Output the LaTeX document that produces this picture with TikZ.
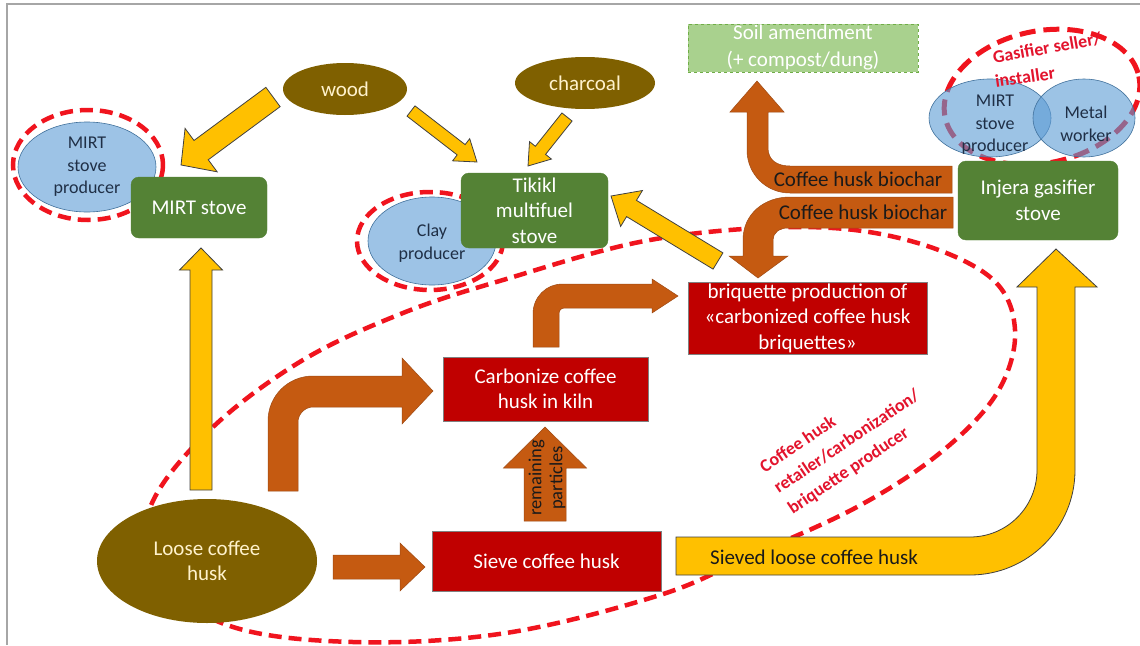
\documentclass[tikz,border=0pt]{standalone}
\usepackage{fontspec}
\setmainfont{Carlito}
\usetikzlibrary{shapes.geometric}
\definecolor{cOlive}{HTML}{7F6000}
\definecolor{cCream}{HTML}{FFF2CC}
\definecolor{cGreen}{HTML}{548235}
\definecolor{cRedBox}{HTML}{C00000}
\definecolor{cOrg}{HTML}{C55A11}
\definecolor{cOrgD}{HTML}{9E4A14}
\definecolor{cYel}{HTML}{FFC000}
\definecolor{cYelD}{HTML}{404040}
\definecolor{cBlue}{HTML}{9DC3E6}
\definecolor{cBlueT}{HTML}{5B9BD5}
\definecolor{cBlueD}{HTML}{41719C}
\definecolor{cDash}{HTML}{F0141E}
\definecolor{cRedTxt}{HTML}{E3142D}
\definecolor{cSoil}{HTML}{A9D18E}
\definecolor{cSoilD}{HTML}{70AD47}
\definecolor{cFrame}{HTML}{A6A6A6}
\definecolor{cDark}{HTML}{1A1A1A}
\definecolor{cNavy}{HTML}{1F2F46}
\newcommand\fsz[2]{\fontsize{#1}{#2}\selectfont}
% style, x1, y1, x2, y2, half shaft, half head, head length
\newcommand\blockarrow[8]{%
  \pgfmathsetmacro\baRot{-atan2((#5)-(#3),(#4)-(#2))}%
  \pgfmathsetmacro\baLen{veclen((#4)-(#2),(#5)-(#3))}%
  \pgfmathsetmacro\baB{\baLen-(#8)}%
  \path[#1, shift={(#2,#3)}, rotate=\baRot]
    (0,-#6) -- (\baB,-#6) -- (\baB,-#7) -- (\baLen,0) -- (\baB,#7) -- (\baB,#6) -- (0,#6) -- cycle;}
\begin{document}
\begin{tikzpicture}[x=1pt,y=-1pt,
  reddash/.style={draw=cDash, line width=4.5pt, dash pattern=on 13pt off 7pt},
  yel/.style={fill=cYel, draw=cYelD, line width=0.8pt},
  org/.style={fill=cOrg, draw=cOrgD, line width=0.5pt},
  olv/.style={ellipse, fill=cOlive, text=cCream, font=\fsz{21}{25}, inner sep=0pt, align=center},
  blu/.style={ellipse, fill=cBlue, draw=cBlueD, line width=0.6pt, inner sep=0pt},
  blut/.style={ellipse, fill=cBlueT, fill opacity=0.6, draw=cBlueD, line width=0.6pt, inner sep=0pt},
  grn/.style={rectangle, rounded corners=8pt, fill=cGreen, draw=cGreen, text=white, font=\fsz{21}{25.5}, align=center, inner sep=0pt},
  redbox/.style={rectangle, fill=cRedBox, draw=gray, line width=0.6pt, text=white, font=\fsz{21}{25.5}, align=center, inner sep=0pt},
  bluetxt/.style={text=cNavy, font=\fsz{18}{22.5}, align=center, inner sep=0pt},
  darktxt/.style={text=cDark, font=\fsz{21}{25}, inner sep=0pt},
  redtxt/.style={text=cRedTxt, font=\bfseries\fsz{18}{25}, inner sep=0pt},
]
\useasboundingbox (0,0) rectangle (1140,645);
\fill[white] (0,0) rectangle (1140,645);
\draw[cFrame, line width=1.5pt] (7,645) -- (7,4) -- (1140,4);

% dashed group outlines (behind everything)
\draw[reddash] plot[smooth cycle, tension=0.6] coordinates {
 (152,503) (213,427) (303,360) (403,313) (503,280) (650,240) (800,227)
 (907,240) (990,277) (1015,330) (997,393) (940,453) (857,507) (750,556)
 (660,595) (506,633) (353,642) (227,625) (150,570)};
\draw[reddash] (88,165) ellipse (75 and 55);
\draw[reddash] (430,241) ellipse (73 and 49);
\draw[reddash, line width=5pt, dash pattern=on 16pt off 8pt, rotate around={12:(1042,97)}] (1042,97) ellipse (99 and 66);

% ellipses
\node[olv, minimum width=124pt, minimum height=52pt] (wood) at (345,89) {wood};
\node[olv, minimum width=140pt, minimum height=52pt] (charcoal) at (585,83) {charcoal};
\node[blu, minimum width=138pt, minimum height=90pt] (mirtL) at (87,167) {};
\node[blu, minimum width=128pt, minimum height=88pt] (clay) at (432,241) {};
\node[blut, minimum width=122pt, minimum height=78pt] (mirtR) at (990,118) {};
\node[blut, minimum width=102pt, minimum height=78pt] (metal) at (1084,118) {};
\node[bluetxt] (mirtLt) at (87,167) {MIRT\\stove\\producer};
\node[bluetxt] (clayt) at (432,243) {Clay\\producer};
\node[bluetxt] (mirtRt) at (995,125) {MIRT\\stove\\producer};
\node[bluetxt] (metalt) at (1086,124) {Metal\\worker};

% boxes
\node[rectangle, fill=cSoil, draw=cSoilD, dashed, line width=0.8pt, minimum width=230pt, minimum height=48pt,
      text=white, font=\fsz{21}{27}, align=center, inner sep=0pt] (soil) at (803,48) {Soil amendment\\(+ compost/dung)};
\node[grn, minimum width=136pt, minimum height=61pt] (mirt) at (199,207.5) {MIRT stove};
\node[grn, minimum width=147pt, minimum height=75pt] (tikikl) at (534.5,210.5) {Tikikl\\multifuel\\stove};
\node[grn, minimum width=160pt, minimum height=79pt] (injera) at (1038,200.5) {Injera gasifier\\stove};
\node[redbox, minimum width=205pt, minimum height=64pt] (carb) at (545.5,389) {Carbonize coffee\\husk in kiln};
\node[redbox, minimum width=239pt, minimum height=72pt] (briq) at (807.5,318) {briquette production of\\«carbonized coffee husk\\briquettes»};
\node[redbox, minimum width=229pt, minimum height=60pt] (sieve) at (546.5,561) {Sieve coffee husk};

% yellow straight arrows
\blockarrow{yel}{201}{490}{201}{248}{11}{21.5}{22}
\blockarrow{yel}{273}{97}{181}{165}{12}{27}{25}
\blockarrow{yel}{411}{111}{477}{162}{6.5}{14}{20}
\blockarrow{yel}{567}{117}{528}{166}{6.5}{14}{20}
\blockarrow{yel}{718}{261}{611}{196}{9.5}{21}{24}

% orange straight arrows
\blockarrow{org}{333}{567}{425}{567}{12}{24}{25}
\blockarrow{org}{545}{521}{545}{427}{21}{41.5}{41}

% orange bent arrows
\path[org] (268,491) -- (268,421) .. controls (268,396) and (288,376) .. (313,376) -- (402,376) -- (402,358)
  -- (433,391) -- (402,424) -- (402,407) -- (313,407) .. controls (305,407) and (298,414) .. (298,422) -- (298,491) -- cycle;
\path[org] (533,347) -- (533,314) .. controls (533,297) and (546,284) .. (563,284) -- (652,284) -- (652,279)
  -- (678,296) -- (652,313) -- (652,308) -- (565,308) .. controls (561,308) and (559,310) .. (559,314) -- (559,347) -- cycle;
\path[org] (952,166) -- (790,166) .. controls (777,166) and (768,160) .. (768,148) -- (768,112) -- (784,112)
  -- (757,81) -- (730,112) -- (747,112) -- (747,150) .. controls (747,174) and (766,193) .. (790,193) -- (952,193) -- cycle;
\path[org] (953,197) -- (790,197) .. controls (764,197) and (743,214) .. (743,240) -- (743,256) -- (729,256)
  -- (758,278) -- (788,256) -- (773,256) -- (773,240) .. controls (773,233) and (779,228) .. (788,228) -- (953,228) -- cycle;

% big yellow bent arrow
\path[yel] (676,537) -- (970,537) .. controls (1007,537) and (1037,507) .. (1037,470) -- (1037,287) -- (1017,287)
  -- (1056,249) -- (1097,287) -- (1075,287) -- (1075,470) .. controls (1075,528) and (1028,575) .. (970,575) -- (676,575) -- cycle;

\node[olv, minimum width=220pt, minimum height=124pt] (loose) at (207,561) {Loose coffee\\husk};

% labels on arrows
\node[darktxt] (bc1) at (858,179) {Coffee husk biochar};
\node[darktxt] (bc2) at (863,212) {Coffee husk biochar};
\node[darktxt] (sieved) at (814,557) {Sieved loose coffee husk};
\node[rotate=90, text=cDark, font=\fsz{18.5}{21}, align=center, inner sep=0pt] (remain) at (547,478) {remaining\\particles};

% red group labels
\node[redtxt, rotate=10] (gas1) at (1047,48) {Gasifier seller/};
\node[redtxt, rotate=8] (gas2) at (1025,77) {installer};
\node[redtxt, rotate=34, align=left, anchor=west] (grp) at (776,490) {Coffee husk\\retailer/carbonization/\\briquette producer};
\end{tikzpicture}
\end{document}
